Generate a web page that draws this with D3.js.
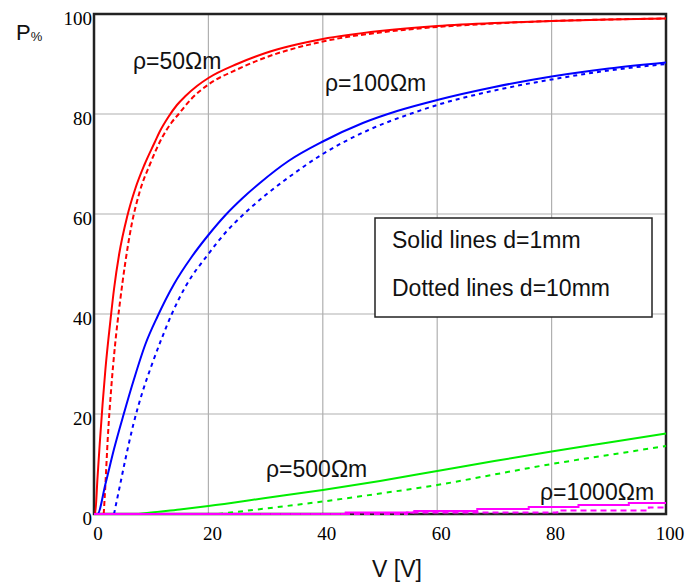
<!DOCTYPE html>
<html>
<head>
<meta charset="utf-8">
<script src="https://cdn.jsdelivr.net/npm/d3@7"></script>
<style>
    body { margin: 0; background: #fff; }
    text { font-family: "Liberation Sans", Arial, sans-serif; }
    .tick-label { font-family: "Liberation Serif", "Times New Roman", serif; font-size: 19px; }
</style>
</head>
<body>
<div id="chart-area"></div>
<script>
// axis ticks
const vTicks = [0, 20, 40, 60, 80, 100];
const pTicks = [0, 20, 40, 60, 80, 100];

// [V, P%]
const red50Solid = [[0, 0], [0.2, 0], [0.6, 7], [1.0, 14], [1.5, 22], [2.0, 29], [2.9, 39], [3.5, 45], [4.4, 52], [5.8, 59.5], [7.2, 65], [8.8, 69.8], [10.6, 74.3], [11.5, 76.5], [13, 79.4], [14.5, 81.8], [16, 83.6], [18, 85.6], [20, 87.2], [25, 90], [30, 92.2], [40, 95], [50, 96.6], [60, 97.6], [70, 98.2], [80, 98.6], [90, 98.9], [100, 99.1]];
const red50Dotted = [[1.7, 0], [2.0, 6], [2.4, 15], [3.0, 25], [3.7, 34], [4.5, 42], [5.5, 50.5], [6.6, 58], [8.0, 64.5], [9.8, 70], [12, 75.5], [13.5, 78.2], [14.8, 80], [17, 83], [20, 85.9], [25, 88.9], [30, 91.3], [40, 94.5], [50, 96.3], [60, 97.4], [70, 98.1], [80, 98.6], [90, 98.9], [100, 99.1]];

const blue100Solid = [[0, 0], [0.6, 0], [2, 6], [3.5, 13], [5.2, 20], [7, 27], [9, 34], [11.1, 39.5], [14, 46], [17, 51.3], [20, 55.8], [23, 59.8], [26, 63.2], [29, 66.2], [34, 70.6], [40, 74.5], [47, 78.2], [53, 80.6], [60, 82.8], [70, 85.4], [80, 87.5], [90, 89.1], [100, 90.3]];
const blue100Dotted = [[3.5, 0], [4.5, 5.5], [5.5, 11], [6.9, 18], [8.5, 24.5], [10, 29.5], [11.8, 35], [13.6, 40], [16, 45.5], [20, 52], [23, 56.3], [26.5, 60.3], [30, 63.8], [34, 67.3], [40, 72], [48, 76.8], [56, 80.3], [60, 81.8], [70, 84.7], [80, 86.9], [90, 88.7], [100, 90]];

const green500Solid = [[7.8, 0], [10, 0.3], [15, 0.9], [20, 1.6], [30, 3.2], [40, 4.8], [50, 6.6], [60, 8.6], [70, 10.6], [80, 12.5], [90, 14.3], [100, 16.1]];
const green500Dotted = [[21.7, 0], [30, 1.1], [40, 2.5], [50, 4.1], [60, 5.8], [70, 7.9], [80, 10], [90, 11.8], [100, 13.6]];

// stepped curves
const mag1000Solid = [[0, 0], [44, 0.3], [56, 0.6], [67, 1.0], [76, 1.4], [84.7, 1.8], [93.5, 2.2], [100, 2.2]];
const mag1000Dotted = [[0, 0], [54.7, 0.3], [81, 0.7], [97, 1.3], [100, 1.3]];
const baseDashed = [[28, 0], [71, 0]];

const seriesList = [
    { values: red50Solid, color: "#ff0000", dash: null, step: false },
    { values: red50Dotted, color: "#ff0000", dash: "5,3", step: false },
    { values: blue100Solid, color: "#0000ff", dash: null, step: false },
    { values: blue100Dotted, color: "#0000ff", dash: "4,4", step: false },
    { values: green500Solid, color: "#00ee00", dash: null, step: false },
    { values: green500Dotted, color: "#00ee00", dash: "5,5", step: false },
    { values: mag1000Solid, color: "#ff00ff", dash: null, step: true },
    { values: baseDashed, color: "#333333", dash: "6,4", step: false },
    { values: mag1000Dotted, color: "#ff00ff", dash: "6,4", step: true }
];

const curveLabels = [
    { text: "ρ=50Ωm", x: 133, y: 69 },
    { text: "ρ=100Ωm", x: 325, y: 91 },
    { text: "ρ=500Ωm", x: 266, y: 477 },
    { text: "ρ=1000Ωm", x: 540, y: 500 }
];

class PercentChart {
    constructor(parentelement) {
        this.parentelement = parentelement;
        this.initVis();
    }

    initVis() {
        const vis = this;

        vis.margin = { top: 14, right: 20, bottom: 73, left: 94 };
        vis.width = 686 - vis.margin.left - vis.margin.right;
        vis.height = 587 - vis.margin.top - vis.margin.bottom;

        vis.svg = d3.select(vis.parentelement)
            .append("svg")
            .attr("width", 686)
            .attr("height", 587)
            .append("g")
            .attr("transform", `translate(${vis.margin.left}, ${vis.margin.top})`);

        vis.x = d3.scaleLinear().domain([0, 100]).range([0, vis.width]);
        vis.y = d3.scaleLinear().domain([0, 100]).range([vis.height, 0]);

        // grid
        vis.svg.append("g")
            .selectAll("line.vgrid")
            .data(vTicks.slice(1, -1))
            .join("line")
            .attr("x1", d => vis.x(d)).attr("x2", d => vis.x(d))
            .attr("y1", 0).attr("y2", vis.height)
            .attr("stroke", "#b0b0b0").attr("stroke-width", 1.2);

        vis.svg.append("g")
            .selectAll("line.hgrid")
            .data(pTicks.slice(1, -1))
            .join("line")
            .attr("x1", 0).attr("x2", vis.width)
            .attr("y1", d => vis.y(d)).attr("y2", d => vis.y(d))
            .attr("stroke", "#b0b0b0").attr("stroke-width", 1.2);

        // frame
        vis.svg.append("rect")
            .attr("x", 0).attr("y", 0)
            .attr("width", vis.width).attr("height", vis.height)
            .attr("fill", "none")
            .attr("stroke", "#222").attr("stroke-width", 2.5);

        // tick labels
        vis.svg.append("g")
            .selectAll("text")
            .data(vTicks)
            .join("text")
            .attr("class", "tick-label")
            .attr("x", d => vis.x(d) + 4)
            .attr("y", vis.height + 26)
            .attr("text-anchor", "middle")
            .text(d => d);

        vis.svg.append("g")
            .selectAll("text")
            .data(pTicks)
            .join("text")
            .attr("class", "tick-label")
            .attr("x", -2)
            .attr("y", d => vis.y(d) + 11)
            .attr("text-anchor", "end")
            .text(d => d);

        this.drawLines();
        this.drawText();
    }

    drawLines() {
        const vis = this;

        vis.svg.append("g")
            .selectAll("path")
            .data(seriesList)
            .join("path")
            .attr("fill", "none")
            .attr("stroke", d => d.color)
            .attr("stroke-width", 2)
            .attr("stroke-dasharray", d => d.dash)
            .attr("d", d => d3.line()
                .x(p => vis.x(p[0]))
                .y(p => vis.y(p[1]))
                .curve(d.step ? d3.curveStepAfter : d3.curveMonotoneX)(d.values));
    }

    drawText() {
        const vis = this;
        const root = d3.select(vis.parentelement).select("svg");

        root.selectAll("text.curve-label")
            .data(curveLabels)
            .join("text")
            .attr("class", "curve-label")
            .attr("x", d => d.x)
            .attr("y", d => d.y)
            .attr("font-size", 23)
            .attr("fill", "#111")
            .text(d => d.text);

        // legend box
        root.append("rect")
            .attr("x", 375).attr("y", 218)
            .attr("width", 277).attr("height", 99)
            .attr("fill", "#fff")
            .attr("stroke", "#222").attr("stroke-width", 1.5);

        root.append("text")
            .attr("x", 392).attr("y", 248)
            .attr("font-size", 23).attr("fill", "#111")
            .text("Solid lines d=1mm");

        root.append("text")
            .attr("x", 392).attr("y", 296)
            .attr("font-size", 23).attr("fill", "#111")
            .text("Dotted lines d=10mm");

        // axis titles
        root.append("text")
            .attr("x", 397).attr("y", 577)
            .attr("text-anchor", "middle")
            .attr("font-size", 23).attr("fill", "#111")
            .text("V [V]");

        const pTitle = root.append("text")
            .attr("x", 16).attr("y", 40)
            .attr("font-size", 22).attr("fill", "#111");
        pTitle.append("tspan").text("P");
        pTitle.append("tspan").attr("font-size", 13).attr("dy", 1).text("%");
    }
}

new PercentChart("#chart-area");
</script>
</body>
</html>
